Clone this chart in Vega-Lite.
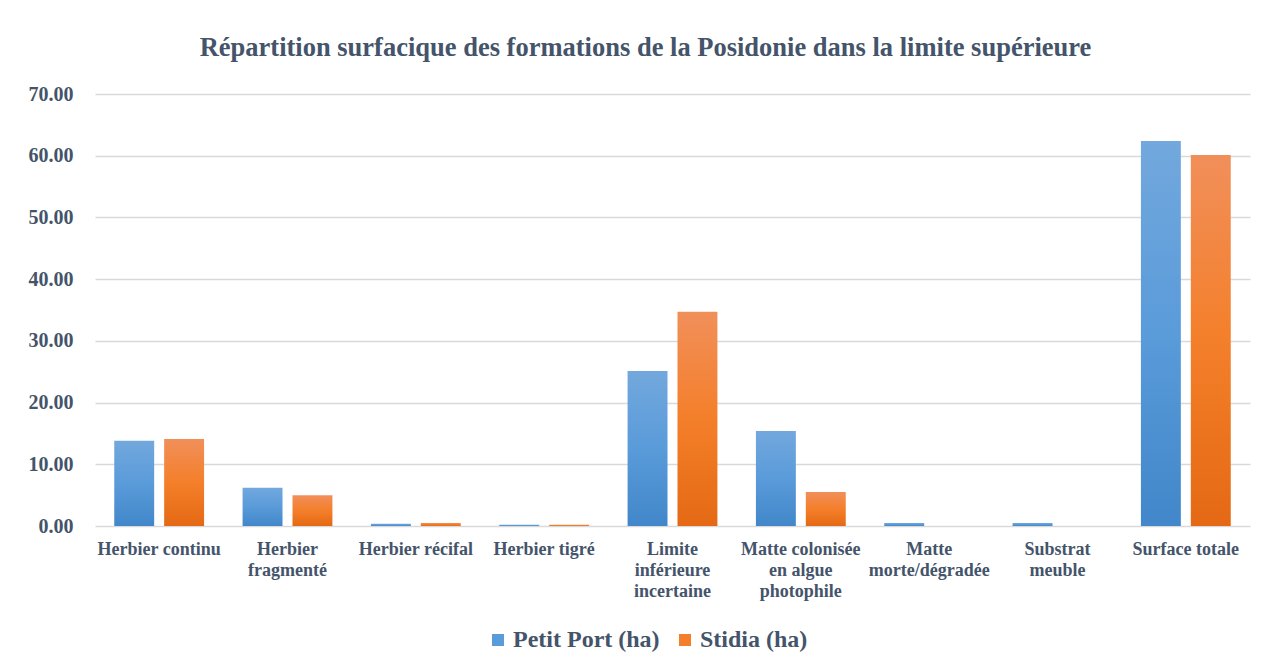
{
  "$schema": "https://vega.github.io/schema/vega-lite/v6.json",
  "width": 1155,
  "height": 432,
  "autosize": {"type": "none"},
  "padding": {"left": 95, "top": 94, "right": 14, "bottom": 143},
  "background": "white",
  "config": {"view": {"stroke": null}},
  "title": {
    "text": "Répartition surfacique des formations de la Posidonie dans la limite supérieure",
    "font": "Liberation Serif",
    "fontSize": 26.5,
    "fontWeight": "bold",
    "color": "#44546A",
    "anchor": "middle",
    "offset": 23,
    "dx": -27
  },
  "data": {
    "values": [
      {"formation": "Herbier continu", "serie": "Petit Port (ha)", "surface": 13.8},
      {"formation": "Herbier continu", "serie": "Stidia (ha)", "surface": 14.1},
      {"formation": "Herbier fragmenté", "serie": "Petit Port (ha)", "surface": 6.2},
      {"formation": "Herbier fragmenté", "serie": "Stidia (ha)", "surface": 5.0},
      {"formation": "Herbier récifal", "serie": "Petit Port (ha)", "surface": 0.35},
      {"formation": "Herbier récifal", "serie": "Stidia (ha)", "surface": 0.5},
      {"formation": "Herbier tigré", "serie": "Petit Port (ha)", "surface": 0.2},
      {"formation": "Herbier tigré", "serie": "Stidia (ha)", "surface": 0.2},
      {"formation": "Limite inférieure incertaine", "serie": "Petit Port (ha)", "surface": 25.1},
      {"formation": "Limite inférieure incertaine", "serie": "Stidia (ha)", "surface": 34.7},
      {"formation": "Matte colonisée en algue photophile", "serie": "Petit Port (ha)", "surface": 15.4},
      {"formation": "Matte colonisée en algue photophile", "serie": "Stidia (ha)", "surface": 5.5},
      {"formation": "Matte morte/dégradée", "serie": "Petit Port (ha)", "surface": 0.5},
      {"formation": "Matte morte/dégradée", "serie": "Stidia (ha)", "surface": 0},
      {"formation": "Substrat meuble", "serie": "Petit Port (ha)", "surface": 0.5},
      {"formation": "Substrat meuble", "serie": "Stidia (ha)", "surface": 0},
      {"formation": "Surface totale", "serie": "Petit Port (ha)", "surface": 62.4},
      {"formation": "Surface totale", "serie": "Stidia (ha)", "surface": 60.1}
    ]
  },
  "encoding": {
    "x": {
      "field": "formation",
      "type": "nominal",
      "sort": ["Herbier continu", "Herbier fragmenté", "Herbier récifal", "Herbier tigré", "Limite inférieure incertaine", "Matte colonisée en algue photophile", "Matte morte/dégradée", "Substrat meuble", "Surface totale"],
      "scale": {"paddingInner": 0.3, "paddingOuter": 0.15},
      "axis": {
        "title": null,
        "domain": false,
        "ticks": false,
        "labelAngle": 0,
        "labelFont": "Liberation Serif",
        "labelFontSize": 18,
        "labelFontWeight": "bold",
        "labelColor": "#44546A",
        "labelPadding": 14,
        "labelLineHeight": 21,
        "labelBaseline": "top",
        "labelLimit": 200,
        "labelExpr": "datum.label == 'Herbier fragmenté' ? ['Herbier', 'fragmenté'] : datum.label == 'Limite inférieure incertaine' ? ['Limite', 'inférieure', 'incertaine'] : datum.label == 'Matte colonisée en algue photophile' ? ['Matte colonisée', 'en algue', 'photophile'] : datum.label == 'Matte morte/dégradée' ? ['Matte', 'morte/dégradée'] : datum.label == 'Substrat meuble' ? ['Substrat', 'meuble'] : datum.label"
      }
    },
    "xOffset": {
      "field": "serie",
      "type": "nominal",
      "sort": ["Petit Port (ha)", "Stidia (ha)"],
      "scale": {"paddingInner": 0.2}
    },
    "y": {
      "field": "surface",
      "type": "quantitative",
      "scale": {"domain": [0, 70], "nice": false},
      "axis": {
        "title": null,
        "values": [0, 10, 20, 30, 40, 50, 60, 70],
        "format": ".2f",
        "domain": false,
        "ticks": false,
        "labelFont": "Liberation Serif",
        "labelFontSize": 20,
        "labelFontWeight": "bold",
        "labelColor": "#44546A",
        "labelPadding": 22,
        "gridColor": "#D9D9D9",
        "gridWidth": 1.5
      }
    }
  },
  "layer": [
    {
      "transform": [{"filter": "datum.serie == 'Petit Port (ha)'"}],
      "mark": {
        "type": "bar",
        "fill": {
          "gradient": "linear", "x1": 0, "y1": 0, "x2": 0, "y2": 1,
          "stops": [
            {"offset": 0, "color": "#72A8DD"},
            {"offset": 0.5, "color": "#5A9BDA"},
            {"offset": 1, "color": "#4187C9"}
          ]
        }
      }
    },
    {
      "transform": [{"filter": "datum.serie == 'Stidia (ha)'"}],
      "mark": {
        "type": "bar",
        "fill": {
          "gradient": "linear", "x1": 0, "y1": 0, "x2": 0, "y2": 1,
          "stops": [
            {"offset": 0, "color": "#F18F5A"},
            {"offset": 0.5, "color": "#F47F2A"},
            {"offset": 1, "color": "#E56914"}
          ]
        }
      }
    },
    {
      "mark": {"type": "square", "opacity": 0, "size": 1},
      "encoding": {
        "color": {
          "field": "serie",
          "type": "nominal",
          "scale": {"domain": ["Petit Port (ha)", "Stidia (ha)"], "range": ["#5A9BDA", "#F47F2A"]},
          "legend": {
            "title": null,
            "orient": "none",
            "direction": "horizontal",
            "legendX": 391,
            "legendY": 534,
            "symbolType": "square",
            "symbolSize": 144,
            "symbolOpacity": 1,
            "symbolStrokeWidth": 0,
            "labelFont": "Liberation Serif",
            "labelFontSize": 24,
            "labelFontWeight": "bold",
            "labelColor": "#44546A",
            "labelOffset": 3,
            "columnPadding": 13,
            "labelLimit": 300
          }
        }
      }
    }
  ]
}
